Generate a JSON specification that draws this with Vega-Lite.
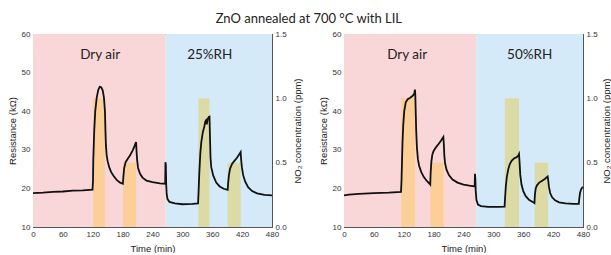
{
  "$schema": "https://vega.github.io/schema/vega-lite/v6.json",
  "autosize": "pad",
  "padding": {"left": 6, "top": 12, "right": 0, "bottom": 0},
  "background": "white",
  "title": {"text": "ZnO annealed at 700 °C with LIL", "font": "Lato", "fontSize": 13, "fontWeight": "normal", "color": "#222", "anchor": "middle", "offset": 4},
  "config": {
    "view": {"stroke": "#555", "strokeWidth": 1},
    "axis": {"grid": false, "domain": false, "labelFont": "Liberation Sans", "labelFontSize": 8, "labelColor": "#333", "titleFont": "Liberation Sans", "titleFontSize": 9.5, "titleFontWeight": "normal", "titleColor": "#222", "tickColor": "#555", "labelOverlap": false, "labelBound": false, "labelFlush": false, "tickSize": -4}
  },
  "datasets": {
    "bgL": [{"t0": 0, "t1": 266.5, "kind": "dry"}, {"t0": 266.5, "t1": 480, "kind": "humid"}],
    "bgR": [{"t0": 0, "t1": 265.5, "kind": "dry"}, {"t0": 265.5, "t1": 480, "kind": "humid"}],
    "barsL": [
      {"t0": 120.5, "t1": 144.5, "ppm": 1.0, "base": 0, "kind": "orange"},
      {"t0": 181, "t1": 207, "ppm": 0.5, "base": 0, "kind": "orange"},
      {"t0": 332, "t1": 354.5, "ppm": 1.0, "base": 0, "kind": "green"},
      {"t0": 391, "t1": 417, "ppm": 0.5, "base": 0, "kind": "green"}
    ],
    "barsR": [
      {"t0": 115, "t1": 143, "ppm": 1.0, "base": 0, "kind": "orange"},
      {"t0": 173.5, "t1": 200, "ppm": 0.5, "base": 0, "kind": "orange"},
      {"t0": 323, "t1": 351.5, "ppm": 1.0, "base": 0, "kind": "green"},
      {"t0": 383, "t1": 410, "ppm": 0.5, "base": 0, "kind": "green"}
    ],
    "textL": [{"t": 135, "R": 54.5, "label": "Dry air"}, {"t": 355, "R": 54.5, "label": "25%RH"}],
    "textR": [{"t": 127, "R": 54.5, "label": "Dry air"}, {"t": 373, "R": 54.5, "label": "50%RH"}],
    "curveL": [
      {"t": 0, "R": 18.8}, {"t": 20, "R": 18.9}, {"t": 40, "R": 19.1}, {"t": 60, "R": 19.2}, {"t": 80, "R": 19.4}, {"t": 100, "R": 19.5}, {"t": 119.5, "R": 19.7},
      {"t": 120.5, "R": 22}, {"t": 121, "R": 27}, {"t": 122, "R": 31}, {"t": 123, "R": 35}, {"t": 125, "R": 40}, {"t": 128, "R": 43.5}, {"t": 131, "R": 45.5}, {"t": 134, "R": 46.3}, {"t": 137, "R": 46.2}, {"t": 140, "R": 45.4}, {"t": 142.5, "R": 43.5}, {"t": 144.5, "R": 40}, {"t": 145.5, "R": 35}, {"t": 146.5, "R": 31}, {"t": 148, "R": 28.5}, {"t": 150, "R": 27}, {"t": 153, "R": 25.5}, {"t": 157, "R": 24.2}, {"t": 162, "R": 23.2}, {"t": 168, "R": 22.2}, {"t": 175, "R": 21.5}, {"t": 180.5, "R": 21.2},
      {"t": 181.5, "R": 23}, {"t": 183, "R": 25.2}, {"t": 186, "R": 26.8}, {"t": 190, "R": 27.6}, {"t": 195, "R": 28.6}, {"t": 200, "R": 29.8}, {"t": 204, "R": 31}, {"t": 207, "R": 32}, {"t": 207.8, "R": 30}, {"t": 209, "R": 27.5}, {"t": 211, "R": 25.3}, {"t": 215, "R": 23.8}, {"t": 220, "R": 22.8}, {"t": 228, "R": 22}, {"t": 240, "R": 21.6}, {"t": 255, "R": 21.3}, {"t": 265.5, "R": 21.2},
      {"t": 266, "R": 26.8}, {"t": 266.8, "R": 26}, {"t": 267.5, "R": 21}, {"t": 268.5, "R": 18.5}, {"t": 270, "R": 17.3}, {"t": 274, "R": 16.5}, {"t": 285, "R": 16.1}, {"t": 300, "R": 15.9}, {"t": 320, "R": 16}, {"t": 331.5, "R": 16.1},
      {"t": 332.5, "R": 19}, {"t": 334, "R": 24}, {"t": 336, "R": 29}, {"t": 338, "R": 32}, {"t": 341, "R": 34.5}, {"t": 344, "R": 36}, {"t": 346, "R": 37.3}, {"t": 347.5, "R": 37.6}, {"t": 349, "R": 36.6}, {"t": 351, "R": 38}, {"t": 353, "R": 38.5}, {"t": 354.5, "R": 38.6}, {"t": 355.5, "R": 33}, {"t": 356.5, "R": 28}, {"t": 358, "R": 25.5}, {"t": 362, "R": 23.3}, {"t": 368, "R": 21.5}, {"t": 375, "R": 20.5}, {"t": 383, "R": 19.9}, {"t": 391, "R": 19.6},
      {"t": 392, "R": 21.5}, {"t": 393.5, "R": 23.5}, {"t": 396, "R": 25.2}, {"t": 400, "R": 26.4}, {"t": 405, "R": 27.2}, {"t": 410, "R": 28}, {"t": 415, "R": 29}, {"t": 417, "R": 29.4}, {"t": 418, "R": 27.5}, {"t": 419.5, "R": 25.5}, {"t": 422, "R": 23.5}, {"t": 426, "R": 21.8}, {"t": 432, "R": 20.3}, {"t": 440, "R": 19.3}, {"t": 450, "R": 18.7}, {"t": 465, "R": 18.3}, {"t": 480, "R": 18.2}
    ],
    "curveR": [
      {"t": 0, "R": 18.2}, {"t": 10, "R": 18.4}, {"t": 30, "R": 18.6}, {"t": 60, "R": 18.8}, {"t": 90, "R": 18.9}, {"t": 114.5, "R": 19.1},
      {"t": 115.5, "R": 22}, {"t": 116.5, "R": 27}, {"t": 117.5, "R": 32}, {"t": 119, "R": 36.5}, {"t": 121, "R": 40}, {"t": 124, "R": 42.3}, {"t": 128, "R": 43.1}, {"t": 133, "R": 43.5}, {"t": 138, "R": 44}, {"t": 141, "R": 44.5}, {"t": 142.5, "R": 45.6}, {"t": 143.2, "R": 44.2}, {"t": 144, "R": 40}, {"t": 145, "R": 35}, {"t": 146.5, "R": 30.5}, {"t": 148.5, "R": 27.5}, {"t": 151, "R": 25.8}, {"t": 155, "R": 24.3}, {"t": 160, "R": 23}, {"t": 166, "R": 22}, {"t": 172, "R": 21.2}, {"t": 173.2, "R": 21},
      {"t": 174, "R": 24}, {"t": 175.5, "R": 27}, {"t": 177.5, "R": 28.8}, {"t": 180, "R": 29.7}, {"t": 185, "R": 30.7}, {"t": 190, "R": 31.5}, {"t": 195, "R": 32.4}, {"t": 199.5, "R": 33.3}, {"t": 200.5, "R": 31.5}, {"t": 201.5, "R": 28.5}, {"t": 203, "R": 26.5}, {"t": 206, "R": 24.8}, {"t": 211, "R": 23.4}, {"t": 218, "R": 22.3}, {"t": 228, "R": 21.5}, {"t": 240, "R": 21}, {"t": 252, "R": 20.7}, {"t": 262.5, "R": 20.5},
      {"t": 263, "R": 23.8}, {"t": 263.8, "R": 22.5}, {"t": 264.5, "R": 19.5}, {"t": 266, "R": 17}, {"t": 269, "R": 15.8}, {"t": 275, "R": 15.4}, {"t": 290, "R": 15.2}, {"t": 310, "R": 15.2}, {"t": 322.5, "R": 15.3},
      {"t": 323.5, "R": 17.5}, {"t": 325, "R": 20.5}, {"t": 327, "R": 23}, {"t": 330, "R": 25}, {"t": 333, "R": 26.3}, {"t": 337, "R": 27.2}, {"t": 342, "R": 27.8}, {"t": 347, "R": 28.1}, {"t": 350, "R": 28.5}, {"t": 351.5, "R": 28.9}, {"t": 352.5, "R": 27}, {"t": 354, "R": 23.5}, {"t": 356.5, "R": 21}, {"t": 360, "R": 19.3}, {"t": 365, "R": 18}, {"t": 372, "R": 17}, {"t": 380, "R": 16.4}, {"t": 382.5, "R": 16.2},
      {"t": 383.5, "R": 18.5}, {"t": 385, "R": 20}, {"t": 387.5, "R": 20.8}, {"t": 392, "R": 21.5}, {"t": 398, "R": 22}, {"t": 404, "R": 22.5}, {"t": 409, "R": 23.1}, {"t": 410, "R": 22.3}, {"t": 411.5, "R": 20.5}, {"t": 414, "R": 18.8}, {"t": 418, "R": 17.7}, {"t": 424, "R": 16.9}, {"t": 432, "R": 16.4}, {"t": 445, "R": 16.1}, {"t": 460, "R": 16}, {"t": 471.5, "R": 16},
      {"t": 472.5, "R": 17.3}, {"t": 474, "R": 18.8}, {"t": 476, "R": 19.7}, {"t": 478.5, "R": 20.2}, {"t": 480, "R": 20.4}
    ]
  },
  "bounds": "flush",
  "spacing": 72,
  "hconcat": [
    {
      "width": 239, "height": 193,
      "layer": [
        {"data": {"name": "bgL"}, "mark": {"type": "rect"},
         "encoding": {
           "x": {"field": "t0", "type": "quantitative", "scale": {"domain": [0, 480], "nice": false}, "axis": {"orient": "bottom", "title": "Time (min)", "values": [0,60,120,180,240,300,360,420,480], "labelPadding": 7, "titlePadding": 5}},
           "x2": {"field": "t1"},
           "color": {"field": "kind", "type": "nominal", "scale": {"domain": ["dry", "humid", "orange", "green"], "range": ["#f9d6d7", "#d5eaf8", "#fccf98", "#dcdba6"]}, "legend": null}
         }},
        {"data": {"name": "barsL"}, "mark": {"type": "rect"},
         "encoding": {
           "x": {"field": "t0", "type": "quantitative", "scale": {"domain": [0, 480], "nice": false}, "axis": {"orient": "top", "title": null, "labels": false, "values": [0,60,120,180,240,300,360,420,480]}},
           "x2": {"field": "t1"},
           "y": {"field": "ppm", "type": "quantitative", "scale": {"domain": [0, 1.5], "nice": false}, "axis": {"orient": "right", "title": "NO₂ concentration (ppm)", "titleAngle": 270, "titleBaseline": "top", "values": [0, 0.5, 1, 1.5], "format": ".1f", "labelPadding": 7, "titlePadding": 6}},
           "y2": {"field": "base"},
           "color": {"field": "kind", "type": "nominal", "legend": null}
         }},
        {"data": {"name": "curveL"}, "mark": {"type": "line", "color": "#111", "strokeWidth": 1.8},
         "encoding": {
           "x": {"field": "t", "type": "quantitative", "scale": {"domain": [0, 480], "nice": false}, "axis": {"orient": "bottom", "title": null, "labels": false, "values": [30,90,150,210,270,330,390,450], "tickSize": -2}},
           "y": {"field": "R", "type": "quantitative", "scale": {"domain": [10, 60], "nice": false}, "axis": {"orient": "left", "title": "Resistance (kΩ)", "values": [10,20,30,40,50,60], "labelPadding": 7, "titlePadding": 4}}
         }},
        {"data": {"name": "textL"}, "mark": {"type": "text", "font": "Lato", "fontSize": 13.5, "color": "#222", "baseline": "middle", "align": "center"},
         "encoding": {
           "x": {"field": "t", "type": "quantitative", "scale": {"domain": [0, 480], "nice": false}, "axis": {"orient": "top", "title": null, "labels": false, "values": [30,90,150,210,270,330,390,450], "tickSize": -2}},
           "y": {"field": "R", "type": "quantitative", "scale": {"domain": [10, 60], "nice": false}, "axis": {"orient": "left", "title": null, "labels": false, "values": [15,25,35,45,55], "tickSize": -2}},
           "text": {"field": "label"}
         }}
      ],
      "resolve": {"scale": {"y": "independent"}, "axis": {"x": "independent", "y": "independent"}}
    },
    {
      "width": 239, "height": 193,
      "layer": [
        {"data": {"name": "bgR"}, "mark": {"type": "rect"},
         "encoding": {
           "x": {"field": "t0", "type": "quantitative", "scale": {"domain": [0, 480], "nice": false}, "axis": {"orient": "bottom", "title": "Time (min)", "values": [0,60,120,180,240,300,360,420,480], "labelPadding": 7, "titlePadding": 5}},
           "x2": {"field": "t1"},
           "color": {"field": "kind", "type": "nominal", "scale": {"domain": ["dry", "humid", "orange", "green"], "range": ["#f9d6d7", "#d5eaf8", "#fccf98", "#dcdba6"]}, "legend": null}
         }},
        {"data": {"name": "barsR"}, "mark": {"type": "rect"},
         "encoding": {
           "x": {"field": "t0", "type": "quantitative", "scale": {"domain": [0, 480], "nice": false}, "axis": {"orient": "top", "title": null, "labels": false, "values": [0,60,120,180,240,300,360,420,480]}},
           "x2": {"field": "t1"},
           "y": {"field": "ppm", "type": "quantitative", "scale": {"domain": [0, 1.5], "nice": false}, "axis": {"orient": "right", "title": "NO₂ concentration (ppm)", "titleAngle": 270, "titleBaseline": "top", "values": [0, 0.5, 1, 1.5], "format": ".1f", "labelPadding": 7, "titlePadding": 4}},
           "y2": {"field": "base"},
           "color": {"field": "kind", "type": "nominal", "legend": null}
         }},
        {"data": {"name": "curveR"}, "mark": {"type": "line", "color": "#111", "strokeWidth": 1.8},
         "encoding": {
           "x": {"field": "t", "type": "quantitative", "scale": {"domain": [0, 480], "nice": false}, "axis": {"orient": "bottom", "title": null, "labels": false, "values": [30,90,150,210,270,330,390,450], "tickSize": -2}},
           "y": {"field": "R", "type": "quantitative", "scale": {"domain": [10, 60], "nice": false}, "axis": {"orient": "left", "title": "Resistance (kΩ)", "values": [10,20,30,40,50,60], "labelPadding": 7, "titlePadding": 4}}
         }},
        {"data": {"name": "textR"}, "mark": {"type": "text", "font": "Lato", "fontSize": 13.5, "color": "#222", "baseline": "middle", "align": "center"},
         "encoding": {
           "x": {"field": "t", "type": "quantitative", "scale": {"domain": [0, 480], "nice": false}, "axis": {"orient": "top", "title": null, "labels": false, "values": [30,90,150,210,270,330,390,450], "tickSize": -2}},
           "y": {"field": "R", "type": "quantitative", "scale": {"domain": [10, 60], "nice": false}, "axis": {"orient": "left", "title": null, "labels": false, "values": [15,25,35,45,55], "tickSize": -2}},
           "text": {"field": "label"}
         }}
      ],
      "resolve": {"scale": {"y": "independent"}, "axis": {"x": "independent", "y": "independent"}}
    }
  ]
}
